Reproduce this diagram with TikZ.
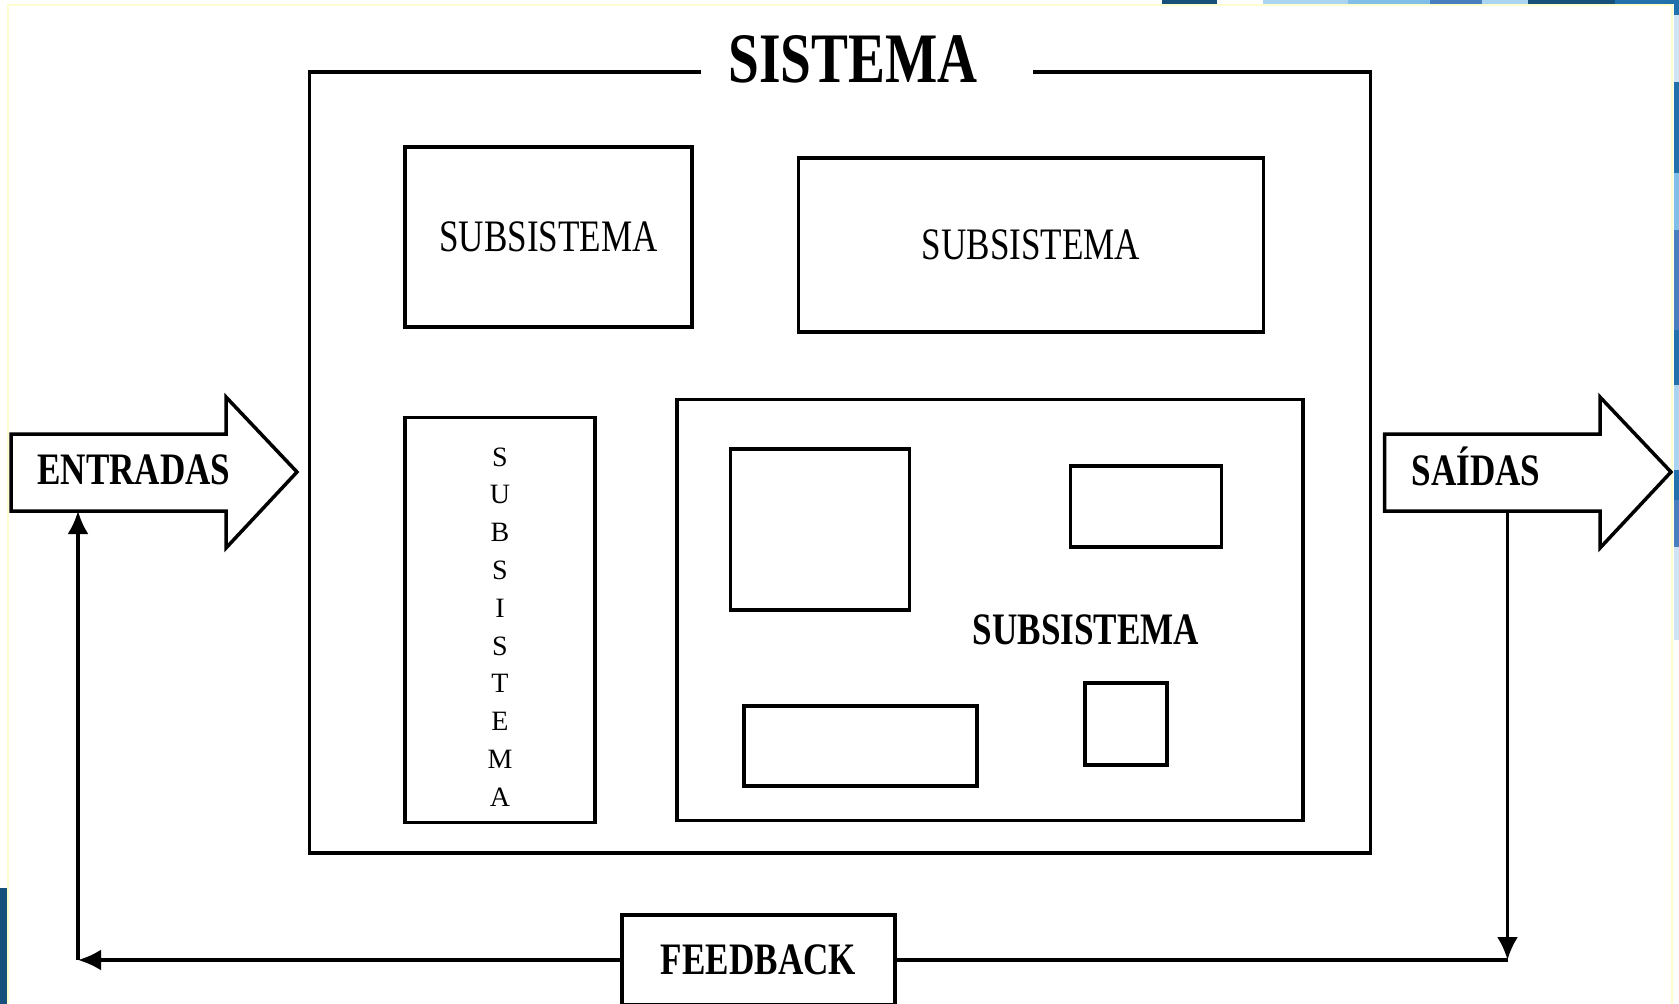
\documentclass[tikz,border=0pt]{standalone}
\usepackage{fontspec}
\setmainfont{Liberation Serif}
\newfontfamily\estreita[FakeStretch=0.78]{Liberation Serif}
\usetikzlibrary{arrows.meta}

\definecolor{azulescuro}{RGB}{23,80,122}
\definecolor{azulmedio}{RGB}{34,113,173}
\definecolor{azulclaro}{RGB}{170,212,240}
\definecolor{azulpalido}{RGB}{208,228,244}
\definecolor{azulceu}{RGB}{130,191,232}
\definecolor{azulcinza}{RGB}{74,127,191}
\definecolor{amarelo}{RGB}{255,255,205}

\tikzset{
  caixa/.style={draw, line width=3.5pt, inner sep=0pt},
  seta/.style={line width=3.2pt, -{Latex[length=23pt,width=21pt]}},
  linha/.style={line width=3.5pt},
  rotulo/.style={font=\estreita\bfseries\fontsize{45}{45}\selectfont},
  normal/.style={font=\estreita\fontsize{45}{45}\selectfont},
}

\begin{document}
\begin{tikzpicture}[x=1pt, y=-1pt]
  \useasboundingbox (0,0) rectangle (1679,1004);

  % restos do fundo do slide
  \fill[azulescuro] (1162,0) rectangle (1217,4);
  \fill[azulclaro] (1263,0) rectangle (1348,4);
  \fill[azulceu] (1348,0) rectangle (1430,4);
  \fill[azulcinza] (1430,0) rectangle (1482,4);
  \fill[azulclaro] (1482,0) rectangle (1528,4);
  \fill[azulescuro] (1528,0) rectangle (1615,4);
  \fill[azulmedio] (1615,0) rectangle (1679,4);
  \fill[azulmedio] (1674,0) rectangle (1679,15);
  \fill[azulpalido] (1674,15) rectangle (1679,82);
  \fill[azulmedio] (1674,82) rectangle (1679,173);
  \fill[azulceu] (1674,173) rectangle (1679,230);
  \fill[azulcinza] (1674,230) rectangle (1679,330);
  \fill[azulmedio] (1674,330) rectangle (1679,385);
  \fill[azulclaro] (1674,385) rectangle (1679,470);
  \fill[azulmedio] (1674,470) rectangle (1679,500);
  \fill[azulcinza] (1674,500) rectangle (1679,547);
  \fill[azulpalido] (1674,547) rectangle (1679,640);
  \fill[azulescuro] (0,888) rectangle (7,1004);
  \draw[amarelo, line width=1.5pt] (8,1004) -- (8,5) -- (1672,5) -- (1672,1004);

  % sistema
  \node[inner sep=0pt, font=\estreita\bfseries\fontsize{71}{71}\selectfont] (titulo) at (853,59) {SISTEMA};
  \draw[linha] (701,72) -- (309.5,72) -- (309.5,853) -- (1370.5,853) -- (1370.5,72) -- (1033,72);

  % subsistemas
  \node[caixa, minimum width=287, minimum height=180, normal] (sub1) at (548.5,237) {SUBSISTEMA};
  \node[caixa, minimum width=465, minimum height=174, normal] (sub2) at (1031,245) {SUBSISTEMA};
  \node[caixa, minimum width=190, minimum height=405] (sub3) at (500,620) {};
  \node[align=center, font=\fontsize{28}{37.8}\selectfont] (vertical) at (500,627)
    {S\\U\\B\\S\\I\\S\\T\\E\\M\\A};
  \node[caixa, minimum width=626, minimum height=421] (sub4) at (990,610) {};
  \node[rotulo] (sub4rot) at (1086,630) {SUBSISTEMA};
  \node[caixa, minimum width=179, minimum height=161] (pa) at (820,529.5) {};
  \node[caixa, minimum width=151, minimum height=81] (pb) at (1146,506.5) {};
  \node[caixa, minimum width=233, minimum height=80] (pc) at (860.5,746) {};
  \node[caixa, minimum width=82, minimum height=82] (pd) at (1126,724) {};

  % entradas e saidas
  \draw[linha, line join=miter] (11,434) -- (226,434) -- (226,397) -- (297,472)
    -- (226,548) -- (226,511) -- (11,511) -- cycle;
  \node[rotulo] (entradas) at (134,470) {ENTRADAS};
  \draw[linha, line join=miter] (1384.5,434) -- (1600,434) -- (1600,397) -- (1671,472)
    -- (1600,548) -- (1600,511) -- (1384.5,511) -- cycle;
  \node[rotulo, anchor=base] (saidas) at (1476,485) {SAÍDAS};

  % feedback
  \node[caixa, fill=white, minimum width=273, minimum height=90, rotulo] (feedback) at (758.5,960) {FEEDBACK};
  \coordinate (saidaPe) at (1507.5,511);
  \coordinate (cantoDir) at (1507.5,960);
  \coordinate (cantoEsq) at (78,960);
  \coordinate (entradaPe) at (78,511);
  \draw[seta] (saidaPe) -- (cantoDir);
  \draw[linha] (cantoDir) -- (feedback.east);
  \draw[seta] (feedback.west) -- (cantoEsq);
  \draw[seta] (cantoEsq) -- (entradaPe);
\end{tikzpicture}
\end{document}
